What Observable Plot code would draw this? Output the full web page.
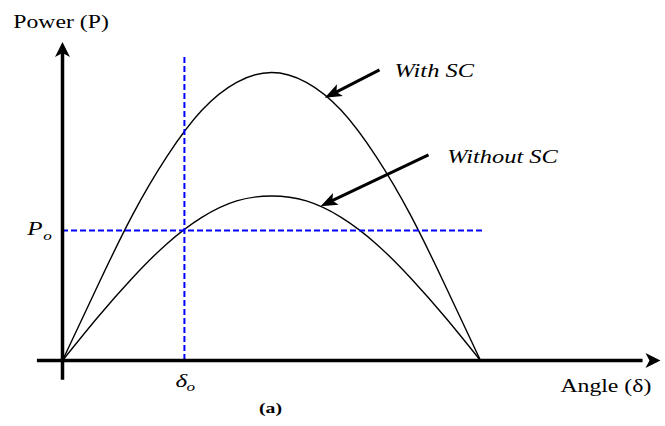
<!DOCTYPE html>
<html>
<head>
<meta charset="utf-8">
<script src="https://cdn.jsdelivr.net/npm/d3@7"></script>
<script src="https://cdn.jsdelivr.net/npm/@observablehq/plot@0.6"></script>
<style>
  body { margin: 0; background: #fff; }
  #chart svg { display: block; }
</style>
</head>
<body>
<div id="chart"></div>
<script>
// Power–angle characteristic, load angle δ in degrees (sampled every 15°)
const angle = [0, 15, 30, 45, 60, 75, 90, 105, 120, 135, 150, 165, 180];
const powerWithSC = [0, 0.45, 0.88, 1.24, 1.52, 1.69, 1.75, 1.69, 1.52, 1.24, 0.88, 0.45, 0];
const powerWithoutSC = [0, 0.26, 0.50, 0.71, 0.87, 0.97, 1.00, 0.97, 0.87, 0.71, 0.50, 0.26, 0];

// Operating point
const deltaO = 52.5;
const powerO = 0.79;

// Text
const seriesNames = ["With SC", "Without SC"];
const yTitle = "Power (P)";
const xTitle = "Angle (δ)";
const caption = "(a)";

const rows = [
  ...angle.map((a, i) => ({angle: a, power: powerWithSC[i], series: seriesNames[0]})),
  ...angle.map((a, i) => ({angle: a, power: powerWithoutSC[i], series: seriesNames[1]}))
];

const serif = "'Liberation Serif', 'Times New Roman', serif";
const blue = "#0000ff";

// Filled, notched arrowhead pointing up with its tip at the origin
const arrowHead = (len, half, notch) => ({
  draw(ctx) {
    ctx.moveTo(0, 0);
    ctx.lineTo(half, len);
    ctx.lineTo(0, len - notch);
    ctx.lineTo(-half, len);
    ctx.closePath();
  }
});
const axisHead = arrowHead(15, 7.5, 4);
const pointerHead = arrowHead(17, 6.5, 4);

const txt = (s, x, y, o = {}) =>
  Plot.text([s], {x, y, text: d => d, textAnchor: "start", lineAnchor: "bottom",
    fontFamily: serif, fontSize: 18, fill: "black", ...o});

const chart = Plot.plot({
  width: 665,
  height: 426,
  marginLeft: 62,
  marginRight: 185,
  marginTop: 72,
  marginBottom: 66,
  x: {domain: [0, 180], axis: null},
  y: {domain: [0, 1.75], axis: null},
  style: {background: "#fff", overflow: "visible"},
  marks: [
    // curves
    Plot.line(rows, {x: "angle", y: "power", z: "series", curve: "natural",
      stroke: "black", strokeWidth: 1.4}),

    // operating point guides
    Plot.ruleX([deltaO], {y1: 0, y2: 1.86, stroke: blue, strokeWidth: 2, strokeDasharray: "6,3"}),
    Plot.ruleY([powerO], {x1: 0, x2: 182, stroke: blue, strokeWidth: 2, strokeDasharray: "6,3"}),

    // axes with arrowheads
    Plot.ruleX([0], {y1: -0.12, y2: 1.87, stroke: "black", strokeWidth: 3.5}),
    Plot.ruleY([0], {x1: -10.8, x2: 250, stroke: "black", strokeWidth: 3.5}),
    Plot.dot([[0, 1.935]], {symbol: axisHead, rotate: 0, fill: "black", stroke: "none"}),
    Plot.dot([[257.5, 0]], {symbol: axisHead, rotate: 90, fill: "black", stroke: "none"}),

    // pointers to the curves
    Plot.arrow([0], {x1: 136.5, y1: 1.766, x2: 112.95, y2: 1.596, headLength: 0, insetEnd: 10,
      stroke: "black", strokeWidth: 3, strokeLinecap: "butt"}),
    Plot.dot([[112.95, 1.596]], {symbol: pointerHead, rotate: -117, fill: "black", stroke: "none"}),
    Plot.arrow([0], {x1: 157.6, y1: 1.25, x2: 111.1, y2: 0.938, headLength: 0, insetEnd: 10,
      stroke: "black", strokeWidth: 3, strokeLinecap: "butt"}),
    Plot.dot([[111.1, 0.938]], {symbol: pointerHead, rotate: -115.4, fill: "black", stroke: "none"}),

    // labels
    txt(seriesNames[0], 143.0, 1.72, {fontStyle: "italic", fontSize: 18.5}),
    txt(seriesNames[1], 165.7, 1.203, {fontStyle: "italic", fontSize: 18.5}),
    txt(yTitle, -21.2, 2.023),
    txt(xTitle, 214.4, -0.194),
    txt("P", -15.2, 0.76, {fontStyle: "italic", fontSize: 19}),
    txt("o", -8.3, 0.733, {fontStyle: "italic", fontSize: 13}),
    txt("δ", 48.7, -0.164, {fontStyle: "italic", fontSize: 19}),
    txt("o", 53.4, -0.187, {fontStyle: "italic", fontSize: 13}),
    txt(caption, 89.6, -0.32, {textAnchor: "middle", fontWeight: "bold", fontSize: 15})
  ]
});

// The lettering is set a little wide
d3.select(chart).selectAll("text").each(function () {
  const t = this.getAttribute("transform") || "";
  this.setAttribute("transform", t + " scale(1.32,1)");
});

document.getElementById("chart").append(chart);
</script>
</body>
</html>
